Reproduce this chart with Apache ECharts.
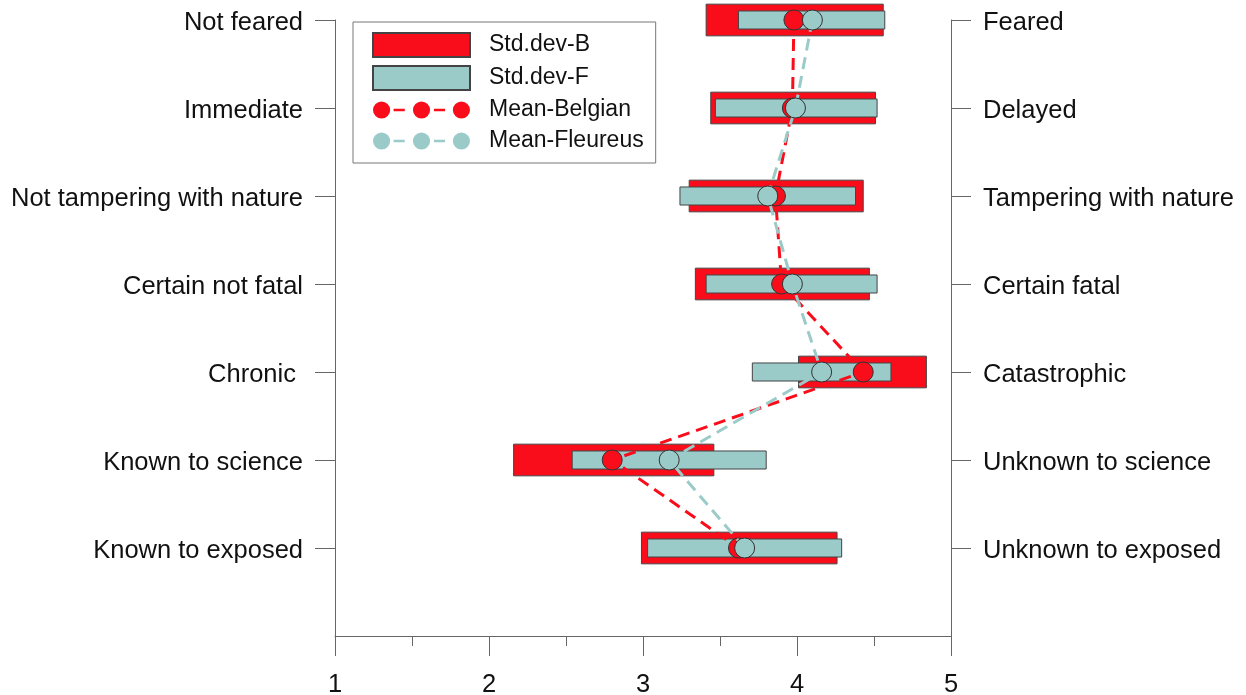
<!DOCTYPE html>
<html>
<head>
<meta charset="utf-8">
<script src="https://cdn.jsdelivr.net/npm/echarts@6/dist/echarts.min.js"></script>
<style>
html,body{margin:0;padding:0;background:#fff;}
#chart{width:1246px;height:695px;}
</style>
</head>
<body>
<div id="chart"></div>
<script>
// Categories, top to bottom
var leftLabels = ["Not feared", "Immediate", "Not tampering with nature", "Certain not fatal", "Chronic ", "Known to science", "Known to exposed"];
var rightLabels = ["Feared", "Delayed", "Tampering with nature", "Certain fatal", "Catastrophic", "Unknown to science", "Unknown to exposed"];
// Std.dev ranges (low, high), top to bottom
var stdBLow  = [3.41, 3.44, 3.30, 3.34, 4.01, 2.16, 2.99];
var stdBHigh = [4.56, 4.51, 4.43, 4.47, 4.84, 3.46, 4.26];
var stdFLow  = [3.62, 3.47, 3.24, 3.41, 3.71, 2.54, 3.03];
var stdFHigh = [4.57, 4.52, 4.38, 4.52, 4.61, 3.80, 4.29];
// Means, top to bottom
var meanBelgian  = [3.98, 3.97, 3.86, 3.90, 4.43, 2.80, 3.62];
var meanFleureus = [4.10, 3.99, 3.81, 3.97, 4.16, 3.17, 3.66];
var xTicks = [1, 2, 3, 4, 5];

var N = leftLabels.length;
function yPos(i) { return N - i; }

var dataB = stdBLow.map(function (v, i) { return [v, stdBHigh[i], yPos(i)]; });
var dataF = stdFLow.map(function (v, i) { return [v, stdFHigh[i], yPos(i)]; });
var lineB = meanBelgian.map(function (v, i) { return [v, yPos(i)]; });
var lineF = meanFleureus.map(function (v, i) { return [v, yPos(i)]; });

var RED = '#F90D1B';
var TEAL = '#9ACBC9';
var EDGE = '#444';

function rangeRender(hUnits, fill) {
  return function (params, api) {
    var lo = api.coord([api.value(0), api.value(2)]);
    var hi = api.coord([api.value(1), api.value(2)]);
    var h = api.size([0, hUnits])[1];
    return {
      type: 'rect',
      shape: { x: lo[0], y: lo[1] - h / 2, width: hi[0] - lo[0], height: h },
      style: { fill: fill, stroke: EDGE, lineWidth: 1 }
    };
  };
}

var meanIcon = 'path://M48,0L48,0M48,24L48,24' +
  'M-8,12a10,10 0 1,0 20,0a10,10 0 1,0 -20,0Z' +
  'M38.5,12a10,10 0 1,0 20,0a10,10 0 1,0 -20,0Z' +
  'M85,12a10,10 0 1,0 20,0a10,10 0 1,0 -20,0Z' +
  'M16,10.5L29,10.5L29,13.5L16,13.5Z' +
  'M63,10.5L76,10.5L76,13.5L63,13.5Z';

var FONT = '"Liberation Sans", Arial, sans-serif';
var chart = echarts.init(document.getElementById('chart'), null, { renderer: 'canvas' });
var yTickVals = leftLabels.map(function (_, i) { return yPos(i); });
var labelRich = { a: { fontSize: 25.5, color: '#111', fontFamily: FONT, padding: [6, 0, 0, 0] } };

chart.setOption({
  animation: false,
  backgroundColor: '#fff',
  grid: { left: 335, right: 295, top: 20, bottom: 59, containLabel: false, outerBoundsMode: 'none' },
  legend: {
    orient: 'vertical',
    left: 353, top: 22,
    padding: [10, 12, 10, 19],
    itemGap: 7,
    itemWidth: 97, itemHeight: 24,
    borderColor: '#777', borderWidth: 1,
    textStyle: { fontSize: 23, lineHeight: 24, color: '#111', fontFamily: FONT, padding: [0, 0, 0, 14] },
    data: [
      { name: 'Std.dev-B', icon: 'rect' },
      { name: 'Std.dev-F', icon: 'rect' },
      { name: 'Mean-Belgian', icon: meanIcon, itemStyle: { borderWidth: 0 } },
      { name: 'Mean-Fleureus', icon: meanIcon, itemStyle: { borderWidth: 0 } }
    ]
  },
  xAxis: {
    type: 'value', min: 1, max: 5, interval: 1,
    axisLine: { show: true, lineStyle: { color: '#666', width: 1 } },
    axisTick: { show: true, length: 20, lineStyle: { color: '#666' } },
    minorTick: { show: true, splitNumber: 2, length: 10, lineStyle: { color: '#666' } },
    splitLine: { show: false },
    axisLabel: { fontSize: 25.5, color: '#111', fontFamily: FONT, margin: 36,
      customValues: xTicks, formatter: function (v) { return String(v); } }
  },
  yAxis: [
    {
      type: 'value', min: 0, max: N, position: 'left',
      axisLine: { show: true, lineStyle: { color: '#666', width: 1 } },
      axisTick: { show: true, length: 20, customValues: yTickVals, lineStyle: { color: '#666' } },
      splitLine: { show: false },
      axisLabel: { fontSize: 25.5, color: '#111', fontFamily: FONT, margin: 32,
        customValues: yTickVals, rich: labelRich,
        formatter: function (v) { return '{a|' + (leftLabels[N - Math.round(v)] || '') + '}'; } }
    },
    {
      type: 'value', min: 0, max: N, position: 'right',
      axisLine: { show: true, lineStyle: { color: '#666', width: 1 } },
      axisTick: { show: true, length: 20, customValues: yTickVals, lineStyle: { color: '#666' } },
      splitLine: { show: false },
      axisLabel: { fontSize: 25.5, color: '#111', fontFamily: FONT, margin: 32,
        customValues: yTickVals, rich: labelRich,
        formatter: function (v) { return '{a|' + (rightLabels[N - Math.round(v)] || '') + '}'; } }
    }
  ],
  series: [
    {
      name: 'Std.dev-B', type: 'custom', z: 2,
      renderItem: rangeRender(0.36, RED),
      itemStyle: { color: RED, borderColor: EDGE, borderWidth: 1 },
      encode: { x: [0, 1], y: 2 },
      data: dataB
    },
    {
      name: 'Std.dev-F', type: 'custom', z: 3,
      renderItem: rangeRender(0.205, TEAL),
      itemStyle: { color: TEAL, borderColor: EDGE, borderWidth: 1 },
      encode: { x: [0, 1], y: 2 },
      data: dataF
    },
    {
      name: 'Mean-Belgian', type: 'line', z: 4,
      symbol: 'circle', symbolSize: 20,
      itemStyle: { color: RED, borderColor: '#333', borderWidth: 1 },
      lineStyle: { color: RED, width: 3, type: [12, 7] },
      data: lineB
    },
    {
      name: 'Mean-Fleureus', type: 'line', z: 5,
      symbol: 'circle', symbolSize: 20,
      itemStyle: { color: TEAL, borderColor: '#333', borderWidth: 1 },
      lineStyle: { color: TEAL, width: 3, type: [12, 7] },
      data: lineF
    }
  ]
});
</script>
</body>
</html>
